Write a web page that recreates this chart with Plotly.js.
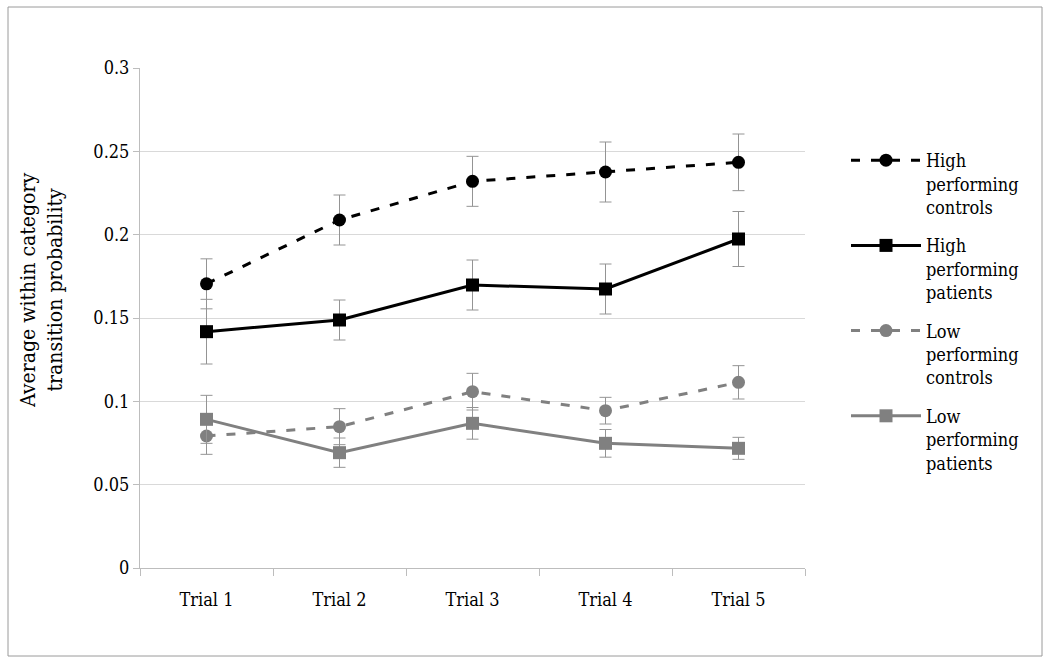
<!DOCTYPE html>
<html>
<head>
<meta charset="utf-8">
<script src="https://cdn.plot.ly/plotly-3.0.1.min.js"></script>
<style>
  html, body { margin: 0; padding: 0; background: #fff; }
  #chart { width: 1050px; height: 664px; }
</style>
</head>
<body>
<div id="chart"></div>
<script>
const trials = ["Trial 1", "Trial 2", "Trial 3", "Trial 4", "Trial 5"];

const hpcNames = "High<br>performing<br>controls";
const hpcVals = [0.1705, 0.2088, 0.2320, 0.2376, 0.2434];
const hpcErr  = [0.0150, 0.0150, 0.0150, 0.0180, 0.0170];

const hppNames = "High<br>performing<br>patients";
const hppVals = [0.1418, 0.1488, 0.1698, 0.1674, 0.1974];
const hppErr  = [0.0194, 0.0120, 0.0150, 0.0150, 0.0165];

const lpcNames = "Low<br>performing<br>controls";
const lpcVals = [0.0792, 0.0848, 0.1058, 0.0944, 0.1114];
const lpcErr  = [0.0110, 0.0108, 0.0110, 0.0080, 0.0100];

const lppNames = "Low<br>performing<br>patients";
const lppVals = [0.0892, 0.0692, 0.0868, 0.0748, 0.0718];
const lppErr  = [0.0144, 0.0088, 0.0095, 0.0083, 0.0066];

const yTitle = "Average within category<br>transition probability";

const FONT = "DejaVu Serif Condensed, DejaVu Serif, serif";
const errStyle = (arr) => ({type: "data", array: arr, visible: true, color: "#949494", thickness: 1, width: 6});

function series(name, group, y, err, color, dash, symbol, size) {
  return {
    type: "scatter", mode: "lines+markers", x: trials, y: y, name: name,
    legendgroup: group,
    line: {color: color, width: 3, dash: dash},
    marker: {color: color, symbol: symbol, size: size},
    error_y: errStyle(err)
  };
}

const data = [
  series(hpcNames, "g1", hpcVals, hpcErr, "#000000", "9px,11px", "circle", 13),
  series(hppNames, "g2", hppVals, hppErr, "#000000", "solid", "square", 13),
  series(lpcNames, "g3", lpcVals, lpcErr, "#808080", "9px,11px", "circle", 13),
  series(lppNames, "g4", lppVals, lppErr, "#808080", "solid", "square", 13)
];

const ml = 140, mr = 245, mt = 68, mb = 96;
const pw = 1050 - ml - mr, ph = 664 - mt - mb;
const px = (v) => (v - ml) / pw;
const py = (v) => (664 - mb - v) / ph;

const layout = {
  width: 1050, height: 664,
  margin: {l: ml, r: mr, t: mt, b: mb, pad: 0},
  paper_bgcolor: "#ffffff", plot_bgcolor: "#ffffff",
  font: {family: FONT, size: 18, color: "#000"},
  showlegend: true,
  legend: {
    x: px(846), y: py(142), xanchor: "left", yanchor: "top",
    font: {family: FONT, size: 18, color: "#000"},
    traceorder: "grouped", tracegroupgap: 12, valign: "top", itemwidth: 70,
    bgcolor: "rgba(0,0,0,0)"
  },
  xaxis: {
    type: "category",
    showgrid: false, zeroline: false,
    showline: true, linecolor: "#bdbdbd", linewidth: 1,
    ticks: "outside", tickson: "boundaries", ticklen: 7, tickcolor: "#bdbdbd",
    ticklabelstandoff: 15,
    tickfont: {family: FONT, size: 18, color: "#000"},
    range: [-0.5, 4.5]
  },
  yaxis: {
    range: [0, 0.3], dtick: 0.05, tick0: 0,
    showgrid: true, gridcolor: "#d9d9d9", gridwidth: 1,
    zeroline: false,
    showline: true, linecolor: "#bdbdbd", linewidth: 1,
    ticks: "outside", ticklen: 6, tickcolor: "#bdbdbd",
    tickfont: {family: FONT, size: 18, color: "#000"}
  },
  annotations: [{
    text: yTitle, xref: "paper", yref: "paper",
    x: px(41), y: py(291), xanchor: "center", yanchor: "middle",
    textangle: -90, showarrow: false, align: "center",
    font: {family: FONT, size: 21, color: "#000"}
  }],
  shapes: [{
    type: "rect", xref: "paper", yref: "paper",
    x0: px(8), x1: px(1042), y0: py(656), y1: py(7),
    line: {color: "#9a9a9a", width: 1}, fillcolor: "rgba(0,0,0,0)", layer: "below"
  }]
};

Plotly.newPlot("chart", data, layout, {displayModeBar: false, staticPlot: true});
</script>
</body>
</html>
